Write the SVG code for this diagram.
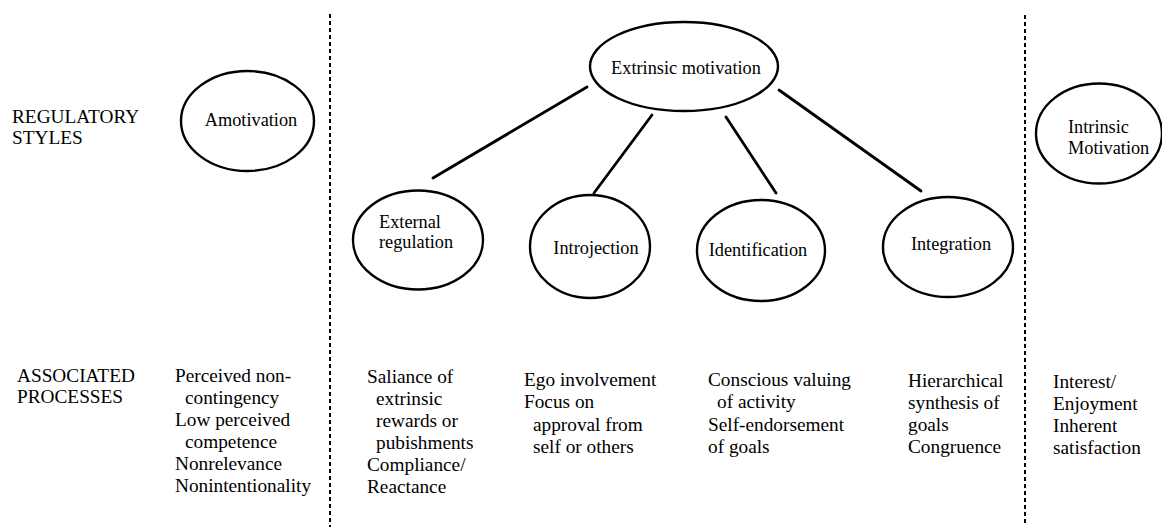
<svg xmlns="http://www.w3.org/2000/svg" width="1162" height="529" viewBox="0 0 1162 529">
<style>
text{font-family:"Liberation Serif","Times New Roman",serif;font-size:18.3px;fill:#000}
.proc text{font-size:19.3px}
.node ellipse{fill:none;stroke:#000;stroke-width:2.4}
.conn line{stroke:#000;stroke-width:2.8;stroke-linecap:round}
.div line{stroke:#000;stroke-width:2;stroke-dasharray:4 3}
.mid{text-anchor:middle}
</style>
<rect width="1162" height="529" fill="#fff"/>
<g id="dividers" class="div">
<line x1="330" y1="14" x2="330" y2="527"/>
<line x1="1025" y1="15" x2="1025" y2="524"/>
</g>
<g id="row-labels" class="proc">
<text x="12" y="123">REGULATORY</text>
<text x="12" y="144">STYLES</text>
<text x="17" y="382">ASSOCIATED</text>
<text x="17" y="403">PROCESSES</text>
</g>
<g id="connectors" class="conn">
<line x1="587" y1="87" x2="433" y2="178"/>
<line x1="652" y1="115" x2="594" y2="193"/>
<line x1="726" y1="117" x2="776" y2="193"/>
<line x1="779" y1="90" x2="921" y2="191"/>
</g>
<g id="amotivation" class="node">
<ellipse cx="247.5" cy="121" rx="66.5" ry="50"/>
<text x="251" y="126" class="mid">Amotivation</text>
</g>
<g id="extrinsic" class="node">
<ellipse cx="684" cy="66.5" rx="94" ry="44.5"/>
<text x="686" y="74" class="mid">Extrinsic motivation</text>
</g>
<g id="external" class="node">
<ellipse cx="418" cy="240" rx="65" ry="49.5"/>
<text x="379" y="228">External</text>
<text x="379" y="248">regulation</text>
</g>
<g id="introjection" class="node">
<ellipse cx="590" cy="246.5" rx="60" ry="51.5"/>
<text x="596" y="254" class="mid">Introjection</text>
</g>
<g id="identification" class="node">
<ellipse cx="761" cy="250.5" rx="64" ry="50.5"/>
<text x="758" y="256" class="mid">Identification</text>
</g>
<g id="integration" class="node">
<ellipse cx="948" cy="247" rx="65" ry="50"/>
<text x="951" y="250" class="mid">Integration</text>
</g>
<g id="intrinsic" class="node">
<ellipse cx="1099" cy="133.5" rx="63" ry="50"/>
<text x="1068" y="133">Intrinsic</text>
<text x="1068" y="154">Motivation</text>
</g>
<g id="proc-amotivation" class="proc">
<text x="175" y="382">Perceived non-</text>
<text x="185" y="404">contingency</text>
<text x="175" y="426">Low perceived</text>
<text x="185" y="448">competence</text>
<text x="175" y="470">Nonrelevance</text>
<text x="175" y="492">Nonintentionality</text>
</g>
<g id="proc-external" class="proc">
<text x="367" y="383">Saliance of</text>
<text x="376" y="405">extrinsic</text>
<text x="376" y="427">rewards or</text>
<text x="376" y="449">pubishments</text>
<text x="367" y="471">Compliance/</text>
<text x="367" y="493">Reactance</text>
</g>
<g id="proc-introjection" class="proc">
<text x="524" y="386">Ego involvement</text>
<text x="524" y="408">Focus on</text>
<text x="533" y="431">approval from</text>
<text x="533" y="453">self or others</text>
</g>
<g id="proc-identification" class="proc">
<text x="708" y="386">Conscious valuing</text>
<text x="717" y="408">of activity</text>
<text x="708" y="431">Self-endorsement</text>
<text x="708" y="453">of goals</text>
</g>
<g id="proc-integration" class="proc">
<text x="908" y="387">Hierarchical</text>
<text x="908" y="409">synthesis of</text>
<text x="908" y="431">goals</text>
<text x="908" y="453">Congruence</text>
</g>
<g id="proc-intrinsic" class="proc">
<text x="1053" y="388">Interest/</text>
<text x="1053" y="410">Enjoyment</text>
<text x="1053" y="432">Inherent</text>
<text x="1053" y="454">satisfaction</text>
</g>
</svg>
